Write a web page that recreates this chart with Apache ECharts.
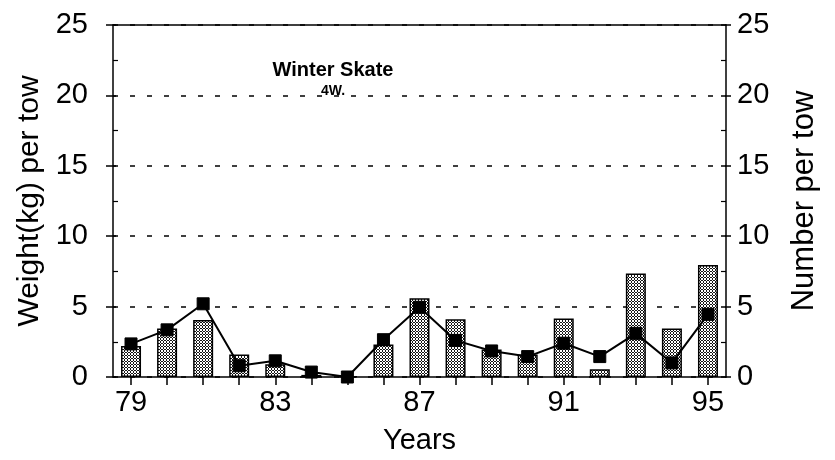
<!DOCTYPE html>
<html>
<head>
<meta charset="utf-8">
<script src="https://cdn.jsdelivr.net/npm/echarts@6/dist/echarts.min.js"></script>
<style>
html,body{margin:0;padding:0;background:#fff;}
#chart{width:835px;height:460px;}
</style>
</head>
<body>
<div id="chart"></div>
<script>
const years = ['79','80','81','82','83','84','85','86','87','88','89','90','91','92','93','94','95'];
const weightPerTow = [2.2, 3.45, 4.05, 1.6, 0.9, 0.15, 0.05, 2.3, 5.6, 4.1, 1.95, 1.6, 4.15, 0.55, 7.35, 3.45, 7.95];
const numberPerTow = [2.35, 3.35, 5.2, 0.8, 1.15, 0.35, 0, 2.65, 4.95, 2.6, 1.85, 1.45, 2.4, 1.45, 3.1, 1.0, 4.45];
const yTicks = [0, 5, 10, 15, 20, 25];

const FONT = '"Liberation Sans", Arial, Helvetica, sans-serif';

// stipple pattern for bars (ring-like dots)
const tile = document.createElement('canvas');
tile.width = 3; tile.height = 3;
const tc = tile.getContext('2d');
tc.fillStyle = '#ffffff';
tc.fillRect(0, 0, 3, 3);
tc.fillStyle = '#151515';
[[1,0],[0,1],[2,1],[1,2]].forEach(p => tc.fillRect(p[0], p[1], 1, 1));

const chart = echarts.init(document.getElementById('chart'), null, {renderer: 'canvas'});
const yMin = yTicks[0], yMax = yTicks[yTicks.length - 1], yStep = yTicks[1] - yTicks[0];
const axisLineStyle = {color: '#000', width: 1.5};

chart.setOption({
  animation: false,
  backgroundColor: '#fff',
  textStyle: {fontFamily: FONT},
  title: {
    text: 'Winter Skate',
    subtext: '4W.',
    left: 328,
    top: 55,
    textAlign: 'center',
    itemGap: 4,
    textStyle: {fontFamily: FONT, fontSize: 20, fontWeight: 'bold', color: '#000'},
    subtextStyle: {fontFamily: FONT, fontSize: 14, fontWeight: 'bold', color: '#000'}
  },
  grid: {left: 113, right: 109, top: 25, bottom: 80, containLabel: false},
  xAxis: [
    {
      type: 'category',
      data: years,
      position: 'bottom',
      boundaryGap: true,
      name: 'Years',
      nameLocation: 'middle',
      nameGap: 49,
      nameTextStyle: {fontFamily: FONT, fontSize: 29, color: '#000'},
      axisLine: {show: true, onZero: false, lineStyle: axisLineStyle},
      axisTick: {show: true, interval: 0, alignWithLabel: true, length: 8, lineStyle: {color: '#000', width: 1.5}},
      axisLabel: {interval: 3, margin: 11, fontFamily: FONT, fontSize: 29, color: '#000'},
      splitLine: {show: false}
    },
    {
      type: 'category',
      data: years,
      position: 'top',
      axisLine: {show: true, onZero: false, lineStyle: axisLineStyle},
      axisTick: {show: false},
      axisLabel: {show: false},
      splitLine: {show: false}
    }
  ],
  yAxis: [
    {
      type: 'value', position: 'left', min: yMin, max: yMax, interval: yStep,
      name: 'Weight(kg) per tow',
      nameLocation: 'middle',
      nameRotate: 90,
      nameGap: 66,
      nameTextStyle: {fontFamily: FONT, fontSize: 30, color: '#000'},
      axisLine: {show: true, onZero: false, lineStyle: axisLineStyle},
      axisTick: {show: true, inside: false, length: 7, lineStyle: {color: '#000', width: 1.5}},
      axisLabel: {margin: 25, fontFamily: FONT, fontSize: 29, color: '#000'},
      splitLine: {show: true, lineStyle: {color: '#000', width: 1.5, type: [5, 12]}}
    },
    {
      type: 'value', position: 'left', min: yMin, max: yMax, interval: yStep,
      axisLine: {show: false},
      axisTick: {show: true, inside: true, length: 3, lineStyle: {color: '#000', width: 1.5}},
      minorTick: {show: true, splitNumber: 2, length: 5, lineStyle: {color: '#000', width: 1.2}},
      axisLabel: {show: false},
      splitLine: {show: false}
    },
    {
      type: 'value', position: 'right', min: yMin, max: yMax, interval: yStep,
      name: 'Number per tow',
      nameLocation: 'middle',
      nameRotate: 90,
      nameGap: 63,
      nameTextStyle: {fontFamily: FONT, fontSize: 31, color: '#000'},
      axisLine: {show: true, onZero: false, lineStyle: axisLineStyle},
      axisTick: {show: true, inside: false, length: 5, lineStyle: {color: '#000', width: 1.5}},
      axisLabel: {margin: 11, fontFamily: FONT, fontSize: 29, color: '#000'},
      splitLine: {show: false}
    },
    {
      type: 'value', position: 'right', min: yMin, max: yMax, interval: yStep,
      axisLine: {show: false},
      axisTick: {show: true, inside: true, length: 5, lineStyle: {color: '#000', width: 1.5}},
      minorTick: {show: true, splitNumber: 2, length: 5, lineStyle: {color: '#000', width: 1.2}},
      axisLabel: {show: false},
      splitLine: {show: false}
    }
  ],
  series: [
    {
      name: 'Weight(kg) per tow',
      type: 'bar',
      xAxisIndex: 0,
      yAxisIndex: 0,
      data: weightPerTow,
      barWidth: 20,
      itemStyle: {
        color: {image: tile, repeat: 'repeat'},
        borderColor: '#000',
        borderWidth: 1.5
      },
      z: 2
    },
    {
      name: 'Number per tow',
      type: 'line',
      xAxisIndex: 0,
      yAxisIndex: 2,
      data: numberPerTow,
      symbol: 'rect',
      symbolSize: 12,
      lineStyle: {color: '#000', width: 2},
      itemStyle: {color: '#000', borderColor: '#000'},
      z: 3
    }
  ]
});
</script>
</body>
</html>
